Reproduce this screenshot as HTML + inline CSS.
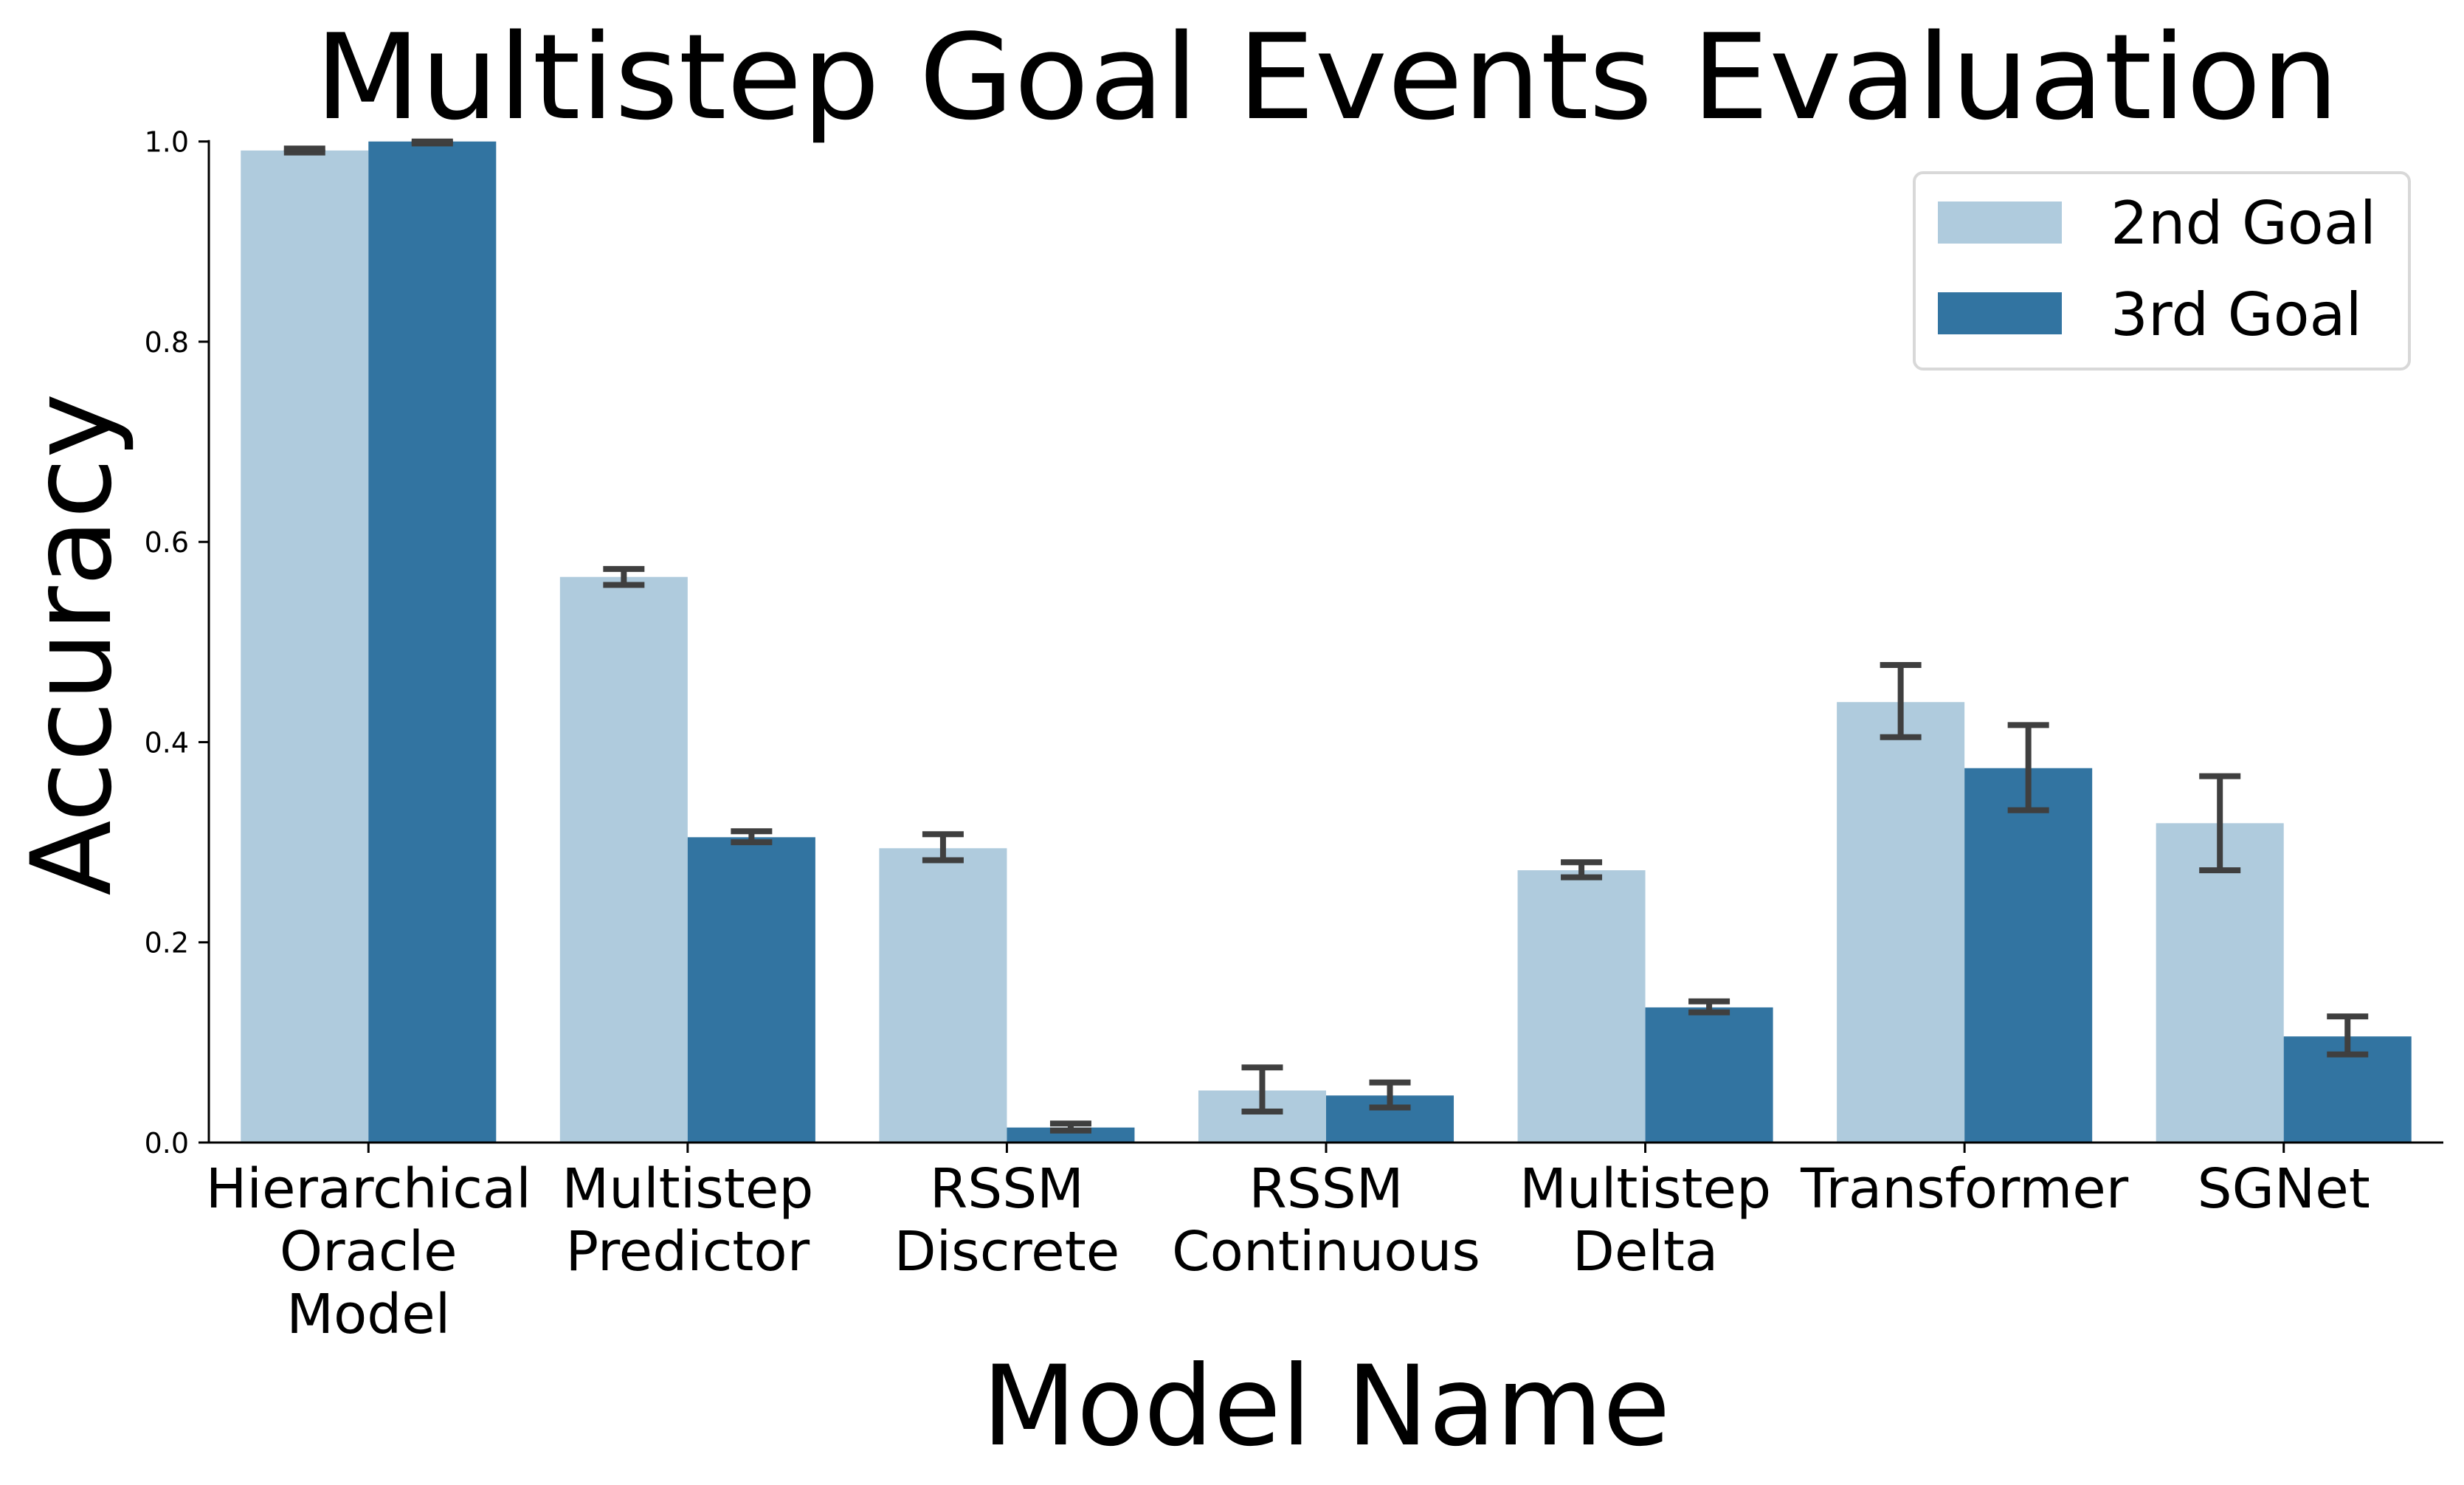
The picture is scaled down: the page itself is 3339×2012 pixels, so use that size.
<!DOCTYPE html>
<html><head><meta charset="utf-8"><style>
html,body{margin:0;padding:0;background:#fff;}
svg{display:block;font-family:"DejaVu Sans","Liberation Sans",sans-serif;}
</style></head><body>
<svg id="chart" width="3339" height="2012" viewBox="0 0 3339 2012" xmlns="http://www.w3.org/2000/svg">
<rect width="3339" height="2012" fill="#fff"/>
<text x="1798" y="160" font-size="160" text-anchor="middle" textLength="2743" lengthAdjust="spacingAndGlyphs">Multistep Goal Events Evaluation</text>
<g id="bars"></g>
<g id="errs"></g>
<g id="axes"></g>
<text x="1797" y="1957" font-size="150" text-anchor="middle" textLength="933" lengthAdjust="spacingAndGlyphs">Model Name</text>
<text transform="translate(149,873) rotate(-90)" font-size="150" text-anchor="middle" textLength="681" lengthAdjust="spacingAndGlyphs">Accuracy</text>
<g>
<rect x="2594" y="234" width="671" height="266" rx="12" fill="#fff" stroke="#d8d8d8" stroke-width="4"/>
<rect x="2626" y="273" width="168" height="57" fill="#afcbdd"/>
<rect x="2626" y="396" width="168" height="57" fill="#3274a1"/>
<text x="2860" y="330" font-size="80">2nd Goal</text>
<text x="2860" y="454" font-size="80">3rd Goal</text>
</g>
</svg>
<script>
const categories = [["Hierarchical","Oracle","Model"],["Multistep","Predictor"],["RSSM","Discrete"],["RSSM","Continuous"],["Multistep","Delta"],["Transformer"],["SGNet"]];
const series2nd = [0.991,0.565,0.294,0.052,0.272,0.440,0.319];
const err2ndLo = [0.989,0.557,0.282,0.031,0.265,0.405,0.272];
const err2ndHi = [0.993,0.573,0.308,0.075,0.280,0.477,0.366];
const series3rd = [1.0,0.305,0.015,0.047,0.135,0.374,0.106];
const err3rdLo = [0.998,0.300,0.012,0.035,0.130,0.332,0.088];
const err3rdHi = [1.0,0.311,0.019,0.060,0.141,0.417,0.126];
const yTicks = ["0.0","0.2","0.4","0.6","0.8","1.0"];

const NS="http://www.w3.org/2000/svg";
const axL=283, axR=3311;
const step=(axR-axL)/7, x0=axL+step/2, bw=step*0.4;
const yTop=191.7, yBot=1548;
const xs=i=>x0+i*step;
const ys=v=>yBot-(yBot-yTop)*v;
function mk(tag,attrs,parent){const e=document.createElementNS(NS,tag);for(const k in attrs)e.setAttribute(k,attrs[k]);parent.appendChild(e);return e;}
const gB=document.getElementById('bars'),gE=document.getElementById('errs'),gA=document.getElementById('axes');
function drawSeries(vals,lo,hi,off,color,nm){
  vals.forEach((v,i)=>{
    const cx=xs(i)+off;
    const r=mk('rect',{x:cx-bw/2,y:ys(v),width:bw,height:ys(0)-ys(v),fill:color},gB);
    
    
    const g=mk('g',{stroke:'#3f3f3f','stroke-width':8},gE);
    
    
    mk('line',{x1:cx,x2:cx,y1:ys(lo[i]),y2:ys(hi[i])},g);
    mk('line',{x1:cx-28,x2:cx+28,y1:ys(lo[i]),y2:ys(lo[i])},g);
    mk('line',{x1:cx-28,x2:cx+28,y1:ys(hi[i]),y2:ys(hi[i])},g);
  });
}
drawSeries(series2nd,err2ndLo,err2ndHi,-bw/2,'#afcbdd','2nd');
drawSeries(series3rd,err3rdLo,err3rdHi,bw/2,'#3274a1','3rd');
const yl=mk('line',{x1:axL,x2:axL,y1:yTop-2,y2:yBot+1.5,stroke:'#000','stroke-width':3},gA);


const xl=mk('line',{x1:axL-1.5,x2:axR,y1:yBot,y2:yBot,stroke:'#000','stroke-width':3},gA);


yTicks.forEach(t=>{
  const y=ys(parseFloat(t));
  mk('line',{x1:axL-14,x2:axL,y1:y,y2:y,stroke:'#000','stroke-width':3},gA);
  const tx=mk('text',{x:256,y:y+14,'font-size':38,'text-anchor':'end'},gA);
  tx.textContent=t;
  
  
});
categories.forEach((lines,i)=>{
  const cx=xs(i);
  mk('line',{x1:cx,x2:cx,y1:yBot,y2:yBot+14,stroke:'#000','stroke-width':3},gA);
  lines.forEach((ln,j)=>{
    const tx=mk('text',{x:cx,y:1636+j*85,'font-size':74,'text-anchor':'middle'},gA);
    tx.textContent=ln;
    
    
  });
});
</script>
</body></html>
